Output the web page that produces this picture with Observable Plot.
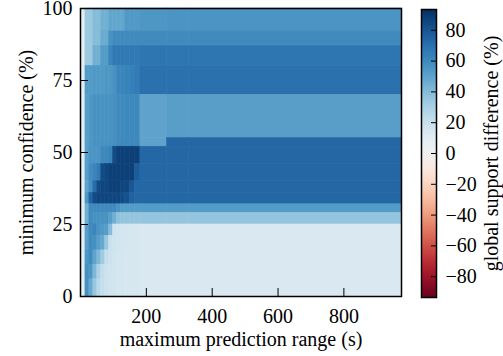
<!DOCTYPE html>
<html><head><meta charset="utf-8">
<script src="https://cdn.jsdelivr.net/npm/d3@7"></script>
<script src="https://cdn.jsdelivr.net/npm/@observablehq/plot@0.6"></script>
<style>
html,body{margin:0;padding:0;background:#fff;}
#wrap{position:relative;width:503px;height:356px;overflow:hidden;background:#fff;}
#main{position:absolute;left:0;top:0;}
#bar{position:absolute;left:411px;top:0;}
#wrap svg, #wrap svg text{font-family:"Liberation Serif","Times New Roman",serif !important;font-size:20px !important;}
#wrap svg{overflow:visible !important;}
</style></head><body><div id="wrap"><div id="main"></div><div id="bar"></div></div>
<script>
// maximum prediction range (s): column edges
const xEdges = [0, 15, 27, 39, 51, 63, 75, 87, 99, 111, 123, 135, 150, 165, 182, 263, 330, 975];
// minimum confidence (%): row edges, top to bottom
const confEdges = [100, 92, 87, 80, 70, 55, 52, 46, 40, 36, 32, 29, 25, 21, 16, 11, 6, 0];
// global support difference (%), one row per confidence band (top to bottom)
const values = [
  [8, 34, 34, 40, 40, 45, 45, 49, 49, 49, 49, 54, 54, 54, 55, 56, 56],
  [8, 34, 34, 40, 40, 47, 47, 57, 60, 60, 60, 60, 60, 60, 60, 60, 60],
  [8, 34, 34, 45, 45, 53, 53, 62, 67, 67, 67, 67, 67, 67, 68, 68, 68],
  [8, 53, 53, 54, 54, 54, 55, 55, 57, 62, 62, 63, 64, 66, 70, 70, 70],
  [8, 52, 55, 57, 57, 57, 57, 57, 58, 60, 60, 61, 61, 61, 50, 52, 52],
  [8, 52, 55, 57, 57, 57, 57, 57, 58, 60, 61, 61, 61, 61, 50, 74, 74],
  [8, 52, 56, 56, 56, 61, 61, 63, 84, 88, 88, 88, 88, 88, 74, 74, 74],
  [8, 52, 59, 62, 66, 84, 86, 88, 88, 88, 88, 88, 88, 78, 74, 74, 74],
  [8, 50, 58, 72, 84, 86, 86, 88, 88, 88, 86, 86, 80, 74, 74, 74, 74],
  [8, 55, 75, 84, 86, 86, 86, 86, 86, 86, 84, 82, 76, 74, 74, 74, 74],
  [8, 45, 60, 60, 60, 60, 60, 60, 60, 56, 53, 53, 53, 53, 53, 53, 53],
  [8, 45, 60, 57, 57, 57, 57, 52, 45, 38, 36, 36, 36, 36, 36, 36, 36],
  [8, 52, 60, 62, 56, 54, 52, 40, 18, 17, 16, 16, 15, 15, 14, 14, 14],
  [8, 52, 60, 58, 52, 48, 35, 20, 18, 17, 16, 16, 15, 15, 14, 14, 14],
  [8, 55, 60, 50, 42, 33, 22, 19, 17, 16, 16, 15, 15, 15, 14, 14, 14],
  [8, 58, 55, 42, 30, 22, 19, 18, 17, 16, 16, 15, 15, 15, 14, 14, 14],
  [8, 58, 48, 35, 26, 21, 19, 18, 17, 16, 16, 15, 15, 15, 14, 14, 14]
];
const xTicks = [200, 400, 600, 800];
const yTicks = [0, 25, 50, 75, 100];
const cbTicks = [-80, -60, -40, -20, 0, 20, 40, 60, 80];
const cbDomain = [-93.5, 93.5];

const cells = [];
values.forEach((row, i) => row.forEach((v, j) => cells.push({
  x1: xEdges[j], x2: xEdges[j + 1], y1: confEdges[i + 1], y2: confEdges[i], v
})));

const font = {fontFamily: '"Liberation Serif", serif', fontSize: "20px", background: "white", color: "black"};
const color = {type: "linear", scheme: "RdBu", domain: cbDomain};
const fmt = d3.format("d");

const main = Plot.plot({
  width: 411, height: 356, marginLeft: 80, marginRight: 10, marginTop: 8, marginBottom: 60,
  style: font,
  x: {domain: [0, 975]},
  y: {domain: [0, 100]},
  color,
  marks: [
    Plot.rect(cells, {x1: "x1", x2: "x2", y1: "y1", y2: "y2", fill: "v", stroke: "v", strokeWidth: 0.6}),
    Plot.axisX({ticks: xTicks, tickFormat: fmt, tickSize: -8, tickPadding: 20, label: "maximum prediction range (s)", labelAnchor: "center", labelArrow: "none", labelOffset: 49}),
    Plot.axisY({ticks: yTicks, tickFormat: fmt, tickSize: -8, tickPadding: 16, label: "minimum confidence (%)", labelAnchor: "center", labelArrow: "none", labelOffset: 62}),
    Plot.frame({stroke: "black", strokeWidth: 1.5})
  ]
});
document.getElementById("main").append(main);

const steps = d3.range(cbDomain[0], cbDomain[1], 0.25);
const bar = Plot.plot({
  width: 92, height: 356, marginLeft: 10, marginRight: 67, marginTop: 9, marginBottom: 59,
  style: font,
  y: {domain: cbDomain},
  color,
  marks: [
    Plot.ruleY(steps, {y: d => d, stroke: d => d, strokeWidth: 1}),
    Plot.axisY({anchor: "right", ticks: cbTicks, tickFormat: fmt, tickSize: -6, tickPadding: 15, label: "global support difference (%)", labelAnchor: "center", labelArrow: "none", labelOffset: 61}),
    Plot.frame({stroke: "black", strokeWidth: 1.5})
  ]
});
document.getElementById("bar").append(bar);
</script></body></html>
